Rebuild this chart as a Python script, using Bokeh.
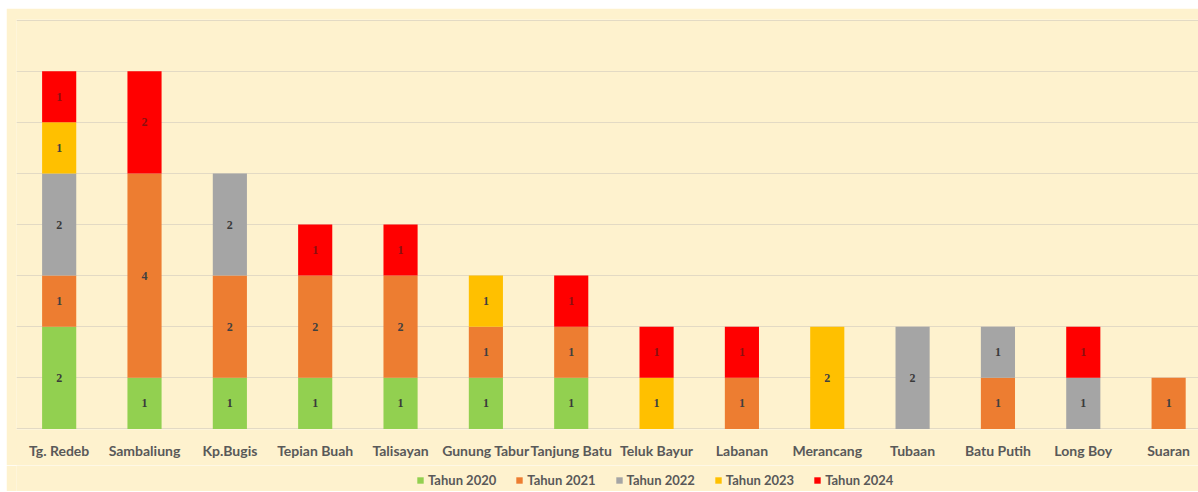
from bokeh.plotting import figure
from bokeh.layouts import column
from bokeh.models import ColumnDataSource, Range1d, FixedTicker, LabelSet, Legend
from bokeh.embed import file_html
from bokeh.resources import INLINE

categories = ["Tg. Redeb", "Sambaliung", "Kp.Bugis", "Tepian Buah", "Talisayan",
              "Gunung Tabur", "Tanjung Batu", "Teluk Bayur", "Labanan", "Merancang",
              "Tubaan", "Batu Putih", "Long Boy", "Suaran"]
series_names = ["Tahun 2020", "Tahun 2021", "Tahun 2022", "Tahun 2023", "Tahun 2024"]
y2020 = [2, 1, 1, 1, 1, 1, 1, 0, 0, 0, 0, 0, 0, 0]
y2021 = [1, 4, 2, 2, 2, 1, 1, 0, 1, 0, 0, 1, 0, 1]
y2022 = [2, 0, 2, 0, 0, 0, 0, 0, 0, 0, 2, 1, 1, 0]
y2023 = [1, 0, 0, 0, 0, 1, 0, 1, 0, 2, 0, 0, 0, 0]
y2024 = [1, 2, 0, 1, 1, 0, 1, 1, 1, 0, 0, 0, 1, 0]
colors = ["#92D050", "#ED7D31", "#A5A5A5", "#FFC000", "#FF0000"]
label_colors = ["#3A3A3A", "#404040", "#3A3A3A", "#404040", "#8B1010"]

series = [y2020, y2021, y2022, y2023, y2024]
xs = list(range(len(categories)))
keys = ["s0", "s1", "s2", "s3", "s4"]
data = {"x": xs}
for k, s in zip(keys, series):
    data[k] = s
src = ColumnDataSource(data)

BG = "#FEF2CE"
p = figure(frame_width=1182, frame_height=410, output_backend="svg", toolbar_location=None,
           x_range=Range1d(-0.5, 13.35), y_range=Range1d(-0.01, 8.01),
           background_fill_color=BG, border_fill_color=BG,
           min_border_left=10, min_border_right=0, min_border_top=11, min_border_bottom=36)
p.outline_line_color = None

rs = p.vbar_stack(keys, x="x", width=0.4, color=colors, source=src, line_color=None)

# labels
lx, ly, lt, lc = [], [], [], []
for i in xs:
    bottom = 0
    for j, s in enumerate(series):
        v = s[i]
        if v > 0:
            lx.append(i)
            ly.append(bottom + v / 2)
            lt.append(str(v))
            lc.append(label_colors[j])
        bottom += v
lsrc = ColumnDataSource(dict(x=lx, y=ly, t=lt, c=lc))
p.add_layout(LabelSet(x="x", y="y", text="t", source=lsrc, text_align="center",
                      text_baseline="middle", text_font_size="12px", text_font="Lato",
                      text_font_style="bold", text_color="c"))

p.yaxis.visible = False
p.ygrid.ticker = FixedTicker(ticks=list(range(0, 9)))
p.ygrid.grid_line_color = "#E3DAC4"
p.ygrid.grid_line_width = 1
p.xgrid.grid_line_color = None

p.xaxis.ticker = FixedTicker(ticks=xs)
p.xaxis.major_label_overrides = {i: c for i, c in enumerate(categories)}
p.xaxis.axis_line_color = None
p.xaxis.major_tick_line_color = None
p.xaxis.minor_tick_line_color = None
p.xaxis.major_tick_in = 0
p.xaxis.major_tick_out = 0
p.xaxis.major_label_standoff = 12
p.xaxis.major_label_text_font = "Lato"
p.xaxis.major_label_text_font_style = "bold"
p.xaxis.major_label_text_font_size = "14px"
p.xaxis.major_label_text_color = "#595959"

# legend strip (its bars lie outside its visible y range)
q = figure(frame_width=1182, frame_height=26, output_backend="svg", toolbar_location=None,
           x_range=Range1d(-0.5, 13.35), y_range=Range1d(100, 101),
           background_fill_color=BG, border_fill_color=BG,
           min_border_left=10, min_border_right=0, min_border_top=0, min_border_bottom=0)
q.outline_line_color = None
q.axis.visible = False
q.grid.visible = False
qr = q.vbar_stack(keys, x="x", width=0.4, color=colors, source=src, line_color=None)

legend = Legend(items=[(n, [r]) for n, r in zip(series_names, qr)],
                orientation="horizontal", location=(400, 3),
                background_fill_color=BG, background_fill_alpha=0.0,
                border_line_color=None, label_text_font="Lato",
                label_text_font_style="bold",
                label_text_font_size="13px", label_text_color="#595959",
                glyph_width=8, glyph_height=8, label_standoff=4, spacing=19,
                padding=2, margin=0)
q.add_layout(legend, "center")

layout = column(p, q, spacing=0)
layout.margin = (8, 0, 0, 6)

open("out.html", "w").write(file_html(layout, INLINE))
